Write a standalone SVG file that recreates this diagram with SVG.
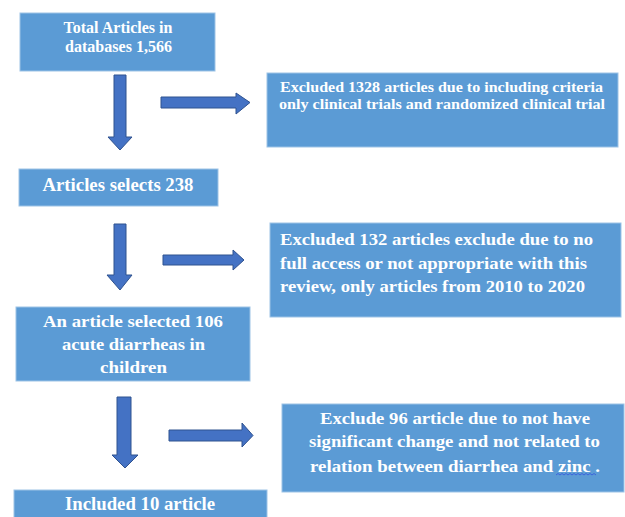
<svg xmlns="http://www.w3.org/2000/svg" width="625" height="517" viewBox="0 0 625 517">
<style>
.box{fill:#5B9BD5;stroke:#9DC3E6;stroke-width:1}
.t{font-family:"Liberation Serif","Times New Roman",serif;font-weight:bold;fill:#FFFFFF}
.c{text-anchor:middle}
.arr{fill:#4472C4;stroke:#2F528F;stroke-width:1}
</style>
<rect width="625" height="517" fill="#FFFFFF"/>
<g id="connectors">
<polygon class="arr" points="114,75 126,75 126,137 132,137 120,150 108,137 114,137"/>
<polygon class="arr" points="161,97 236,97 236,93 250,102.5 236,114 236,108 161,108"/>
<polygon class="arr" points="114,224 126,224 126,275 132,275 120,290 107,275 114,275"/>
<polygon class="arr" points="163,255 233,255 233,250 244,260 233,270 233,265 163,265"/>
<polygon class="arr" points="117,397 131,397 131,455 138,455 125,468 112,455 117,455"/>
<polygon class="arr" points="169,430 242,430 242,423 253,435.5 242,447 242,441 169,441"/>
</g>
<g id="n1">
<rect class="box" x="20" y="13" width="195" height="58"/>
<text class="t c" font-size="16" x="118" y="32.5" textLength="109" lengthAdjust="spacingAndGlyphs">Total Articles in</text>
<text class="t c" font-size="16" x="118.5" y="52" textLength="107" lengthAdjust="spacingAndGlyphs">databases 1,566</text>
</g>
<g id="n2">
<rect class="box" x="267" y="73" width="351" height="74"/>
<text class="t" font-size="15" x="280" y="91.5" textLength="323" lengthAdjust="spacingAndGlyphs">Excluded 1328 articles due to including criteria</text>
<text class="t" font-size="15" x="279" y="108.5" textLength="326" lengthAdjust="spacingAndGlyphs">only clinical trials and randomized clinical trial</text>
</g>
<g id="n3">
<rect class="box" x="19" y="169" width="199" height="37"/>
<text class="t c" font-size="18.5" x="118" y="191" textLength="151" lengthAdjust="spacingAndGlyphs">Articles selects 238</text>
</g>
<g id="n4">
<rect class="box" x="270" y="223" width="351" height="94"/>
<text class="t" font-size="17.5" x="280" y="245" textLength="313" lengthAdjust="spacingAndGlyphs">Excluded 132 articles exclude due to no</text>
<text class="t" font-size="17.5" x="280" y="268.5" textLength="307" lengthAdjust="spacingAndGlyphs">full access or not appropriate with this</text>
<text class="t" font-size="17.5" x="280" y="292" textLength="305" lengthAdjust="spacingAndGlyphs">review, only articles from 2010 to 2020</text>
</g>
<g id="n5">
<rect class="box" x="16" y="307" width="234" height="74"/>
<text class="t c" font-size="17.5" x="133" y="327" textLength="180" lengthAdjust="spacingAndGlyphs">An article selected 106</text>
<text class="t c" font-size="17.5" x="133.5" y="350" textLength="143" lengthAdjust="spacingAndGlyphs">acute diarrheas in</text>
<text class="t c" font-size="17.5" x="133.5" y="373" textLength="67" lengthAdjust="spacingAndGlyphs">children</text>
</g>
<g id="n6">
<rect class="box" x="14" y="490" width="253" height="30"/>
<text class="t c" font-size="18" x="140" y="510" textLength="150" lengthAdjust="spacingAndGlyphs">Included 10 article</text>
</g>
<g id="n7">
<rect class="box" x="282" y="404" width="342" height="88"/>
<text class="t c" font-size="16.5" x="455" y="423.5" textLength="270" lengthAdjust="spacingAndGlyphs">Exclude 96 article due to not have</text>
<text class="t c" font-size="16.5" x="454.5" y="447" textLength="291" lengthAdjust="spacingAndGlyphs">significant change and not related to</text>
<text class="t c" font-size="16.5" x="455" y="471.5" textLength="290" lengthAdjust="spacingAndGlyphs">relation between diarrhea and zinc .</text>
<path d="M556,475 l2,-1.5 l2,1.5 l2,-1.5 l2,1.5 l2,-1.5 l2,1.5 l2,-1.5 l2,1.5 l2,-1.5 l2,1.5 l2,-1.5 l2,1.5 l2,-1.5 l2,1.5 l2,-1.5 l2,1.5 l2,-1.5 l2,1.5 l2,-1.5 l2,1.5" fill="none" stroke="#3355DD" stroke-width="0.8"/>
</g>
</svg>
